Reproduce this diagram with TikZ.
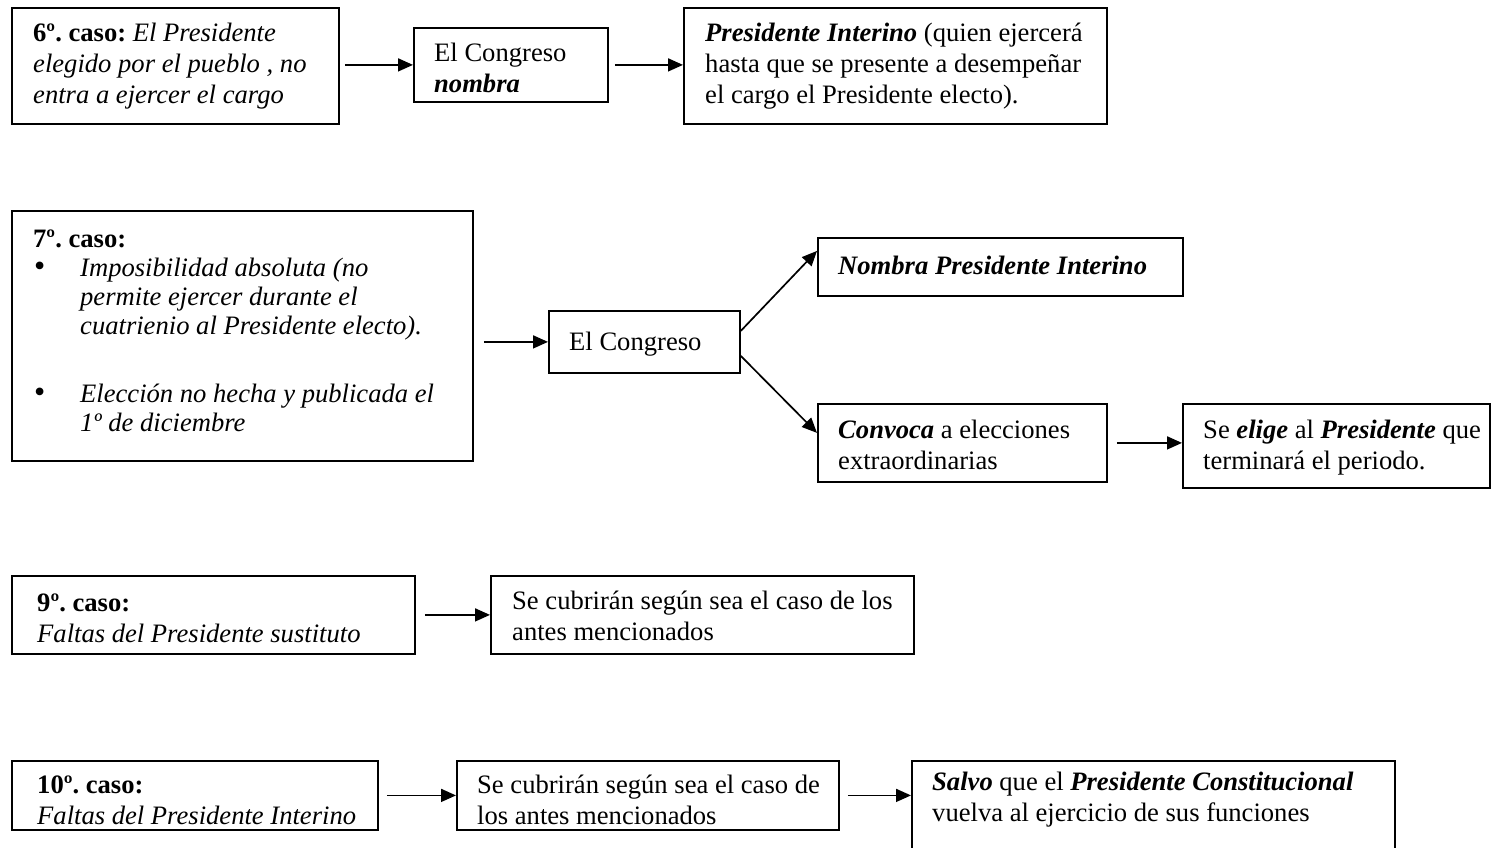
\documentclass[tikz,border=0pt]{standalone}
\usepackage{fontspec}
\setmainfont{Liberation Serif}
\usetikzlibrary{arrows.meta,calc}
\frenchspacing
\newcommand\bigbul{\makebox[47pt][l]{\hspace{1pt}\smash{\fontsize{32}{31}\selectfont\textbullet}}}
\begin{document}
\begin{tikzpicture}[x=1pt,y=-1pt,
  box/.style={draw, line width=1.8pt, rectangle, inner sep=0pt, anchor=north west},
  txt/.style={anchor=base west, inner sep=0pt, font=\fontsize{26.6}{31}\selectfont\frenchspacing},
  arr/.style={line width=1.7pt, -{Triangle[length=15pt,width=13pt]}}]
\path[use as bounding box] (0,0) rectangle (1492,847);
\clip (0,0) rectangle (1492,847);
% ---------- row 6
\node[box, minimum width=327pt, minimum height=116pt] (c6a) at (11,7) {};
\node[box, minimum width=194pt, minimum height=74pt] (c6b) at (413,27) {};
\node[box, minimum width=423pt, minimum height=116pt] (c6c) at (683,7) {};
\node[txt] (t6a) at (33,41) {\begin{tabular}[t]{@{}l@{}}\textbf{6º. caso:} \textit{El Presidente}\\ \textit{elegido por el pueblo , no}\\ \textit{entra a ejercer el cargo}\end{tabular}};
\node[txt] (t6b) at (434,61) {\begin{tabular}[t]{@{}l@{}}El Congreso\\ \textbf{\textit{nombra}}\end{tabular}};
\node[txt] (t6c) at (705,41) {\begin{tabular}[t]{@{}l@{}}\textbf{\textit{Presidente Interino}} (quien ejercerá\\ hasta que se presente a desempeñar\\ el cargo el Presidente electo).\end{tabular}};
\draw[arr] ($(c6a.east |- c6b.west)+(5,0)$) -- (c6b.west);
\draw[arr] ($(c6b.east)+(6,0)$) -- (c6c.west |- c6b.east);
% ---------- row 7
\node[box, minimum width=461pt, minimum height=250pt] (c7a) at (11,210) {};
\node[box, minimum width=191pt, minimum height=62pt] (c7b) at (548,310) {};
\node[box, minimum width=365pt, minimum height=58pt] (c7c) at (817,237) {};
\node[box, minimum width=289pt, minimum height=78pt] (c7d) at (817,403) {};
\node[box, minimum width=307pt, minimum height=84pt] (c7e) at (1182,403) {};
\node[txt] (t7a) at (33,247) {\begin{tabular}[t]{@{}l@{}}\textbf{7º. caso:}\\[-2pt]
\bigbul\textit{Imposibilidad absoluta (no}\\[-2pt]
\hspace*{47pt}\textit{permite ejercer durante el}\\[-2pt]
\hspace*{47pt}\textit{cuatrienio al Presidente electo).}\\[37pt]
\bigbul\textit{Elección no hecha y publicada el}\\[-2pt]
\hspace*{47pt}\textit{1º de diciembre}\end{tabular}};
\node[txt] (t7b) at (569,350) {El Congreso};
\node[txt] (t7c) at (838,274) {\textbf{\textit{Nombra Presidente Interino}}};
\node[txt] (t7d) at (838,438) {\begin{tabular}[t]{@{}l@{}}\textbf{\textit{Convoca}} a elecciones\\ extraordinarias\end{tabular}};
\node[txt] (t7e) at (1203,438) {\begin{tabular}[t]{@{}l@{}}Se \textbf{\textit{elige}} al \textbf{\textit{Presidente}} que\\ terminará el periodo.\end{tabular}};
\draw[arr] ($(c7a.east |- c7b.west)+(10,0)$) -- (c7b.west);
\draw[arr] ($(c7b.east)+(0,-11)$) -- ($(c7c.west)+(0,-16)$);
\draw[arr] ($(c7b.east)+(0,14)$) -- ($(c7d.west)+(0,-10)$);
\draw[arr] ($(c7d.east)+(9,0)$) -- (c7e.west |- c7d.east);
% ---------- row 9
\node[box, minimum width=403pt, minimum height=78pt] (c9a) at (11,575) {};
\node[box, minimum width=423pt, minimum height=78pt] (c9b) at (490,575) {};
\node[txt] (t9a) at (37,611) {\begin{tabular}[t]{@{}l@{}}\textbf{9º. caso:}\\ \textit{Faltas del Presidente sustituto}\end{tabular}};
\node[txt] (t9b) at (512,609) {\begin{tabular}[t]{@{}l@{}}Se cubrirán según sea el caso de los\\ antes mencionados\end{tabular}};
\draw[arr] ($(c9a.east)+(9,0)$) -- (c9b.west);
% ---------- row 10
\node[box, minimum width=366pt, minimum height=69pt] (c10a) at (11,760) {};
\node[box, minimum width=382pt, minimum height=69pt] (c10b) at (456,760) {};
\node[box, minimum width=483pt, minimum height=110pt] (c10c) at (911,760) {};
\node[txt] (t10a) at (37,793) {\begin{tabular}[t]{@{}l@{}}\textbf{10º. caso:}\\ \textit{Faltas del Presidente Interino}\end{tabular}};
\node[txt] (t10b) at (477,793) {\begin{tabular}[t]{@{}l@{}}Se cubrirán según sea el caso de\\ los antes mencionados\end{tabular}};
\node[txt] (t10c) at (932,790) {\begin{tabular}[t]{@{}l@{}}\textbf{\textit{Salvo}} que el \textbf{\textit{Presidente Constitucional}}\\ vuelva al ejercicio de sus funciones\end{tabular}};
\draw[arr] ($(c10a.east)+(8,0)$) -- (c10b.west);
\draw[arr] ($(c10b.east)+(8,0)$) -- (c10c.west |- c10b.east);
\end{tikzpicture}
\end{document}
